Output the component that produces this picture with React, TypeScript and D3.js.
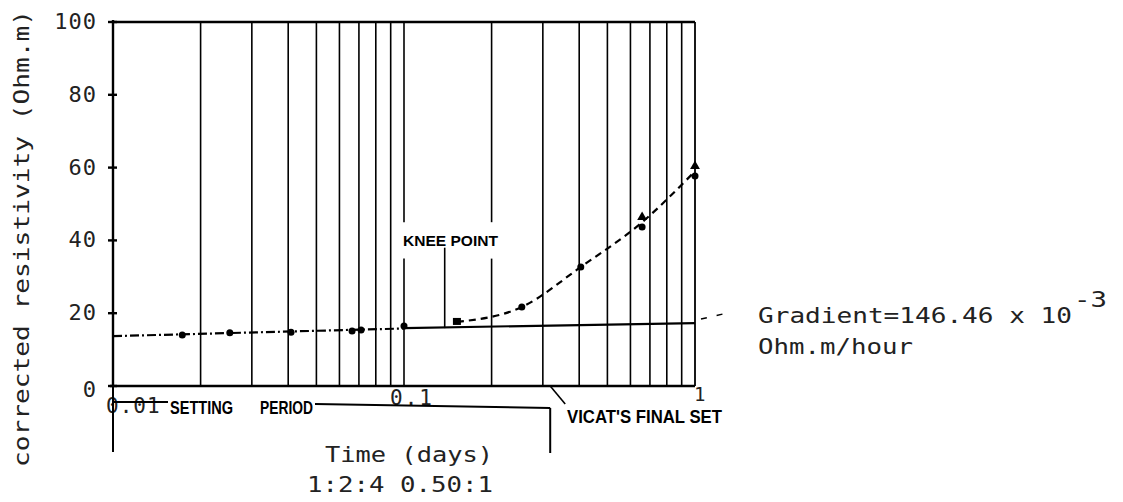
import React, {useEffect, useRef} from 'react';
import * as d3 from 'd3';

// measured points (time in days, corrected resistivity in Ohm.m)
const days = [0.0173, 0.0252, 0.0409, 0.0663, 0.0712, 0.1, 0.152, 0.254, 0.405, 0.658, 1.0];
const resistivity = [14.0, 14.6, 14.8, 15.1, 15.4, 16.5, 17.6, 21.7, 32.7, 43.7, 57.7];
const kneeIndex = 6;

const triangleDays = [0.658, 1.0];
const triangleValues = [46.4, 60.4];

// fitted lines
const preKneeDays = [0.01, 0.1];
const preKneeValues = [13.7, 15.8];
const gradientDays = [0.1, 1];
const gradientValues = [15.9, 17.3];
const curveDays = [0.152, 0.254, 0.405, 0.658, 1.0];
const curveValues = [17.6, 21.7, 32.7, 45.0, 59.0];

// axes
const gridDays = [0.02, 0.03, 0.04, 0.05, 0.06, 0.07, 0.08, 0.09, 0.1, 0.2, 0.3, 0.4, 0.5, 0.6, 0.7, 0.8, 0.9];
const gapDays = [0.1, 0.2];
const gapRange = [35, 45];
const xTickValues = [0.01, 0.1, 1];
const xTickLabels = ['0.01', '0.1', '1'];
const yTickValues = [0, 20, 40, 60, 80, 100];

const vicatDay = 0.318;
const kneeLeaderDay = 0.138;

const MONO = '"DejaVu Sans Mono", "Liberation Mono", monospace';
const HAND = '"Liberation Sans Narrow", "Liberation Sans", Arial, sans-serif';

const ResistivityChart = () => {
  const refObject: any = useRef();

  useEffect(() => {
    const svg = d3.select(refObject.current);
    svg.selectAll('*').remove();

    const x = d3.scaleLog().domain([0.01, 1]).range([113, 695]);
    const y = d3.scaleLinear().domain([0, 100]).range([386, 22]);

    // vertical grid (0.1 and 0.2 broken where the knee label sits)
    gridDays.forEach(d => {
      const segs = gapDays.includes(d) ? [[100, gapRange[1]], [gapRange[0], 0]] : [[100, 0]];
      segs.forEach(s => {
        svg.append('line').attr('x1', x(d)).attr('x2', x(d)).attr('y1', y(s[0])).attr('y2', y(s[1]))
          .attr('stroke', '#000').attr('stroke-width', 1.6);
      });
    });

    // frame
    svg.append('line').attr('x1', x(0.01)).attr('x2', x(1)).attr('y1', y(100)).attr('y2', y(100))
      .attr('stroke', '#000').attr('stroke-width', 2.4);
    svg.append('line').attr('x1', x(0.01) - 3).attr('x2', x(1)).attr('y1', y(0)).attr('y2', y(0))
      .attr('stroke', '#000').attr('stroke-width', 2.6);
    svg.append('line').attr('x1', x(1)).attr('x2', x(1)).attr('y1', y(100)).attr('y2', y(0))
      .attr('stroke', '#000').attr('stroke-width', 1.8);
    svg.append('line').attr('x1', x(0.01)).attr('x2', x(0.01)).attr('y1', y(100) - 2).attr('y2', y(0))
      .attr('stroke', '#000').attr('stroke-width', 2.4);

    // y ticks + labels
    yTickValues.forEach(v => {
      svg.append('line').attr('x1', x(0.01) - 5).attr('x2', x(0.01) + 4).attr('y1', y(v)).attr('y2', y(v))
        .attr('stroke', '#000').attr('stroke-width', 2.4);
      svg.append('text').attr('x', 97).attr('y', y(v) + (v === 0 ? 11 : 7))
        .attr('text-anchor', 'end').attr('font-family', MONO).attr('font-size', 22)
        .attr('letter-spacing', 1).attr('fill', '#222').text(String(v));
    });

    // x tick labels
    xTickValues.forEach((d, i) => {
      const t = svg.append('text').attr('font-family', MONO).attr('font-size', 21).attr('fill', '#222').text(xTickLabels[i]);
      if (i === 0) t.attr('x', x(d) - 7).attr('y', 413).attr('letter-spacing', 1);
      else if (i === 1) t.attr('x', x(d) - 14).attr('y', 405).attr('letter-spacing', 2);
      else t.attr('x', x(d) - 1).attr('y', 401).attr('font-size', 19);
    });

    // fitted lines
    const preLine = d3.line<number>()
      .x((_, i) => x(preKneeDays[i]))
      .y(v => y(v));
    svg.append('path').datum(preKneeValues).attr('d', preLine)
      .attr('fill', 'none').attr('stroke', '#000').attr('stroke-width', 2.2).attr('stroke-dasharray', '9,3,2,3');

    const gradLine = d3.line<number>()
      .x((_, i) => x(gradientDays[i]))
      .y(v => y(v));
    svg.append('path').datum(gradientValues).attr('d', gradLine)
      .attr('fill', 'none').attr('stroke', '#000').attr('stroke-width', 2.2);

    const curve = d3.line<number>()
      .x((_, i) => x(curveDays[i]))
      .y(v => y(v))
      .curve(d3.curveMonotoneX);
    svg.append('path').datum(curveValues).attr('d', curve)
      .attr('fill', 'none').attr('stroke', '#000').attr('stroke-width', 2.2).attr('stroke-dasharray', '7,5');

    // leader to gradient text
    svg.append('line').attr('x1', x(1) + 6).attr('x2', x(1) + 28).attr('y1', y(gradientValues[1]) - 4).attr('y2', y(gradientValues[1]) - 9)
      .attr('stroke', '#000').attr('stroke-width', 1.4).attr('stroke-dasharray', '6,10');

    // points
    days.forEach((d, i) => {
      if (i === kneeIndex) {
        svg.append('rect').attr('x', x(d) - 4).attr('y', y(resistivity[i]) - 4).attr('width', 8).attr('height', 7).attr('fill', '#000');
      } else {
        svg.append('circle').attr('cx', x(d)).attr('cy', y(resistivity[i])).attr('r', 3.5).attr('fill', '#000');
      }
    });
    const tri = d3.symbol().type(d3.symbolTriangle).size(42);
    triangleDays.forEach((d, i) => {
      svg.append('path').attr('d', tri).attr('transform', `translate(${x(d)},${y(triangleValues[i])})`).attr('fill', '#000');
    });

    // knee point annotation
    svg.append('line').attr('x1', x(kneeLeaderDay)).attr('x2', x(kneeLeaderDay)).attr('y1', y(38)).attr('y2', y(15.9))
      .attr('stroke', '#000').attr('stroke-width', 1.6);
    svg.append('text').attr('x', 403).attr('y', 246).attr('font-family', HAND).attr('font-size', 15).attr('font-weight', 'bold')
      .attr('textLength', 95).attr('lengthAdjust', 'spacingAndGlyphs').text('KNEE POINT');

    // setting period bracket
    svg.append('line').attr('x1', x(0.01)).attr('x2', 168).attr('y1', 402).attr('y2', 402)
      .attr('stroke', '#000').attr('stroke-width', 2);
    svg.append('line').attr('x1', 315).attr('x2', x(vicatDay)).attr('y1', 404).attr('y2', 408)
      .attr('stroke', '#000').attr('stroke-width', 2);
    svg.append('line').attr('x1', x(0.01)).attr('x2', x(0.01)).attr('y1', y(0)).attr('y2', 452)
      .attr('stroke', '#000').attr('stroke-width', 2);
    svg.append('line').attr('x1', x(vicatDay)).attr('x2', x(vicatDay)).attr('y1', 408).attr('y2', 453)
      .attr('stroke', '#000').attr('stroke-width', 2);
    svg.append('text').attr('x', 170).attr('y', 414).attr('font-family', HAND).attr('font-size', 18).attr('font-weight', 'bold')
      .attr('textLength', 63).attr('lengthAdjust', 'spacingAndGlyphs').text('SETTING');
    svg.append('text').attr('x', 260).attr('y', 414).attr('font-family', HAND).attr('font-size', 18).attr('font-weight', 'bold')
      .attr('textLength', 53).attr('lengthAdjust', 'spacingAndGlyphs').text('PERIOD');

    // vicat final set
    svg.append('line').attr('x1', x(vicatDay)).attr('x2', x(vicatDay) + 15).attr('y1', y(0)).attr('y2', 404)
      .attr('stroke', '#000').attr('stroke-width', 1.6);
    svg.append('text').attr('x', 567).attr('y', 423).attr('font-family', HAND).attr('font-size', 18).attr('font-weight', 'bold')
      .attr('textLength', 155).attr('lengthAdjust', 'spacingAndGlyphs').text("VICAT'S FINAL SET");

    // axis titles
    svg.append('text').attr('x', 325).attr('y', 462).attr('font-family', MONO).attr('font-size', 22).attr('fill', '#222')
      .attr('textLength', 168).attr('lengthAdjust', 'spacingAndGlyphs').text('Time (days)');
    svg.append('text').attr('x', 307).attr('y', 492).attr('font-family', MONO).attr('font-size', 22).attr('fill', '#222')
      .attr('textLength', 186).attr('lengthAdjust', 'spacingAndGlyphs').text('1:2:4 0.50:1');
    svg.append('text').attr('transform', 'translate(29,467) rotate(-90)').attr('font-family', MONO).attr('font-size', 22)
      .attr('fill', '#222').attr('textLength', 457).attr('lengthAdjust', 'spacingAndGlyphs').text('corrected resistivity (Ohm.m)');

    // gradient note
    svg.append('text').attr('x', 758).attr('y', 323).attr('font-family', MONO).attr('font-size', 22).attr('fill', '#222')
      .attr('textLength', 314).attr('lengthAdjust', 'spacingAndGlyphs').text('Gradient=146.46 x 10');
    svg.append('text').attr('x', 1074).attr('y', 307).attr('font-family', MONO).attr('font-size', 22).attr('fill', '#222')
      .attr('textLength', 33).attr('lengthAdjust', 'spacingAndGlyphs').text('-3');
    svg.append('text').attr('x', 758).attr('y', 354).attr('font-family', MONO).attr('font-size', 22).attr('fill', '#222')
      .attr('textLength', 155).attr('lengthAdjust', 'spacingAndGlyphs').text('Ohm.m/hour');
  }, []);

  return (
    <svg ref={refObject} width={1123} height={502}
         style={{position: 'absolute', left: 0, top: 0, background: '#fff'}}/>
  );
};

export default function App() {
  return <ResistivityChart/>;
}
